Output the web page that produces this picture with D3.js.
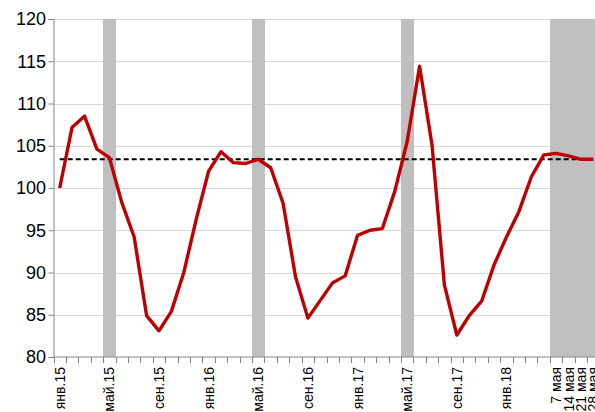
<!DOCTYPE html>
<html>
<head>
<meta charset="utf-8">
<script src="https://cdn.jsdelivr.net/npm/d3@7/dist/d3.min.js"></script>
<style>
  html, body { margin: 0; padding: 0; background: #fff; }
  svg { display: block; }
</style>
</head>
<body>
<svg id="chart" width="595" height="412"></svg>
<script>
// ---- DATA ----
const categories = [
  "янв.15","фев.15","мар.15","апр.15","май.15","июн.15","июл.15","авг.15","сен.15","окт.15","ноя.15","дек.15",
  "янв.16","фев.16","мар.16","апр.16","май.16","июн.16","июл.16","авг.16","сен.16","окт.16","ноя.16","дек.16",
  "янв.17","фев.17","мар.17","апр.17","май.17","июн.17","июл.17","авг.17","сен.17","окт.17","ноя.17","дек.17",
  "янв.18","фев.18","мар.18","апр.18",
  "7 мая","14 мая","21 мая","28 мая"
];
const values = [
  100.0, 107.2, 108.5, 104.6, 103.6, 98.3, 94.2, 84.9, 83.1, 85.4, 90.0, 96.3,
  102.0, 104.3, 103.0, 102.9, 103.4, 102.4, 98.2, 89.5, 84.6, 86.7, 88.8, 89.6,
  94.4, 95.0, 95.2, 99.6, 105.5, 114.4, 105.1, 88.5, 82.6, 84.9, 86.6, 90.9,
  94.2, 97.2, 101.3, 103.9,
  104.1, 103.8, 103.4, 103.4
];
const reference = categories.map(() => 103.4);
const tickLabels = ["янв.15","май.15","сен.15","янв.16","май.16","сен.16","янв.17","май.17","сен.17","янв.18","7 мая","14 мая","21 мая","28 мая"];
const shaded = ["май.15","май.16","май.17","7 мая","14 мая","21 мая","28 мая"];
const yTicks = [80, 85, 90, 95, 100, 105, 110, 115, 120];

// ---- CHART ----
(function () {
const svg = d3.select("#chart");
const pLeft = 53.5, pTop = 19, pBottom = 357;
const bandW = 12.41;
const pRight = pLeft + bandW * categories.length;

const x = d3.scaleBand().domain(categories).range([pLeft, pRight]).padding(0);
const y = d3.scaleLinear().domain([80, 120]).range([pBottom, pTop]);
const cx = c => x(c) + x.bandwidth() / 2;

// gridlines
svg.append("g").selectAll("line").data(yTicks.filter(v => v > 80)).join("line")
  .attr("x1", pLeft).attr("x2", 595)
  .attr("y1", d => Math.round(y(d)) + 0.5).attr("y2", d => Math.round(y(d)) + 0.5)
  .attr("stroke", "#d9d9d9").attr("stroke-width", 1);

// shaded bands
svg.append("g").attr("shape-rendering", "crispEdges")
  .selectAll("rect").data(shaded).join("rect")
  .attr("x", d => x(d)).attr("width", x.bandwidth() + 0.6)
  .attr("y", pTop).attr("height", pBottom - pTop)
  .attr("fill", "#bfbfbf");

// y axis
const yAxis = svg.append("g").attr("transform", `translate(${pLeft},0)`)
  .call(d3.axisLeft(y).tickValues(yTicks).tickSize(5).tickFormat(""));
yAxis.select(".domain").attr("stroke", "#868686");
yAxis.selectAll(".tick line").attr("stroke", "#868686");

svg.append("g").selectAll("text").data(yTicks).join("text")
  .attr("x", 46).attr("y", d => y(d))
  .attr("text-anchor", "end")
  .attr("dy", "0.36em")
  .attr("font-family", "Liberation Sans, Arial, sans-serif")
  .attr("font-size", 18)
  .attr("fill", "#000")
  .text(d => d);

// x axis line and ticks at category boundaries
svg.append("line").attr("x1", pLeft).attr("x2", 595).attr("y1", pBottom).attr("y2", pBottom)
  .attr("stroke", "#868686").attr("stroke-width", 1);
const bounds = categories.map(c => x(c)).concat([pRight]);
svg.append("g").selectAll("line").data(bounds).join("line")
  .attr("x1", d => Math.round(d) + 0.5).attr("x2", d => Math.round(d) + 0.5)
  .attr("y1", pBottom).attr("y2", pBottom + 6)
  .attr("stroke", "#868686").attr("stroke-width", 1);

// x labels
svg.append("g").selectAll("text").data(tickLabels).join("text")
  .attr("transform", d => `translate(${cx(d) + 5},${pBottom + 10}) rotate(-90)`)
  .attr("text-anchor", "end")
  .attr("font-family", "Liberation Sans, Arial, sans-serif")
  .attr("font-size", 14)
  .attr("fill", "#000")
  .text(d => d);

// reference dashed line
svg.append("path")
  .datum(categories.map((c, i) => [cx(c), y(reference[i])]))
  .attr("d", d3.line())
  .attr("fill", "none").attr("stroke", "#000")
  .attr("stroke-width", 2).attr("stroke-dasharray", "5,3");

// main series
svg.append("path")
  .datum(categories.map((c, i) => [cx(c), y(values[i])]))
  .attr("d", d3.line())
  .attr("fill", "none").attr("stroke", "#c00000")
  .attr("stroke-width", 3.4).attr("stroke-linejoin", "round");
})();
</script>
</body>
</html>
